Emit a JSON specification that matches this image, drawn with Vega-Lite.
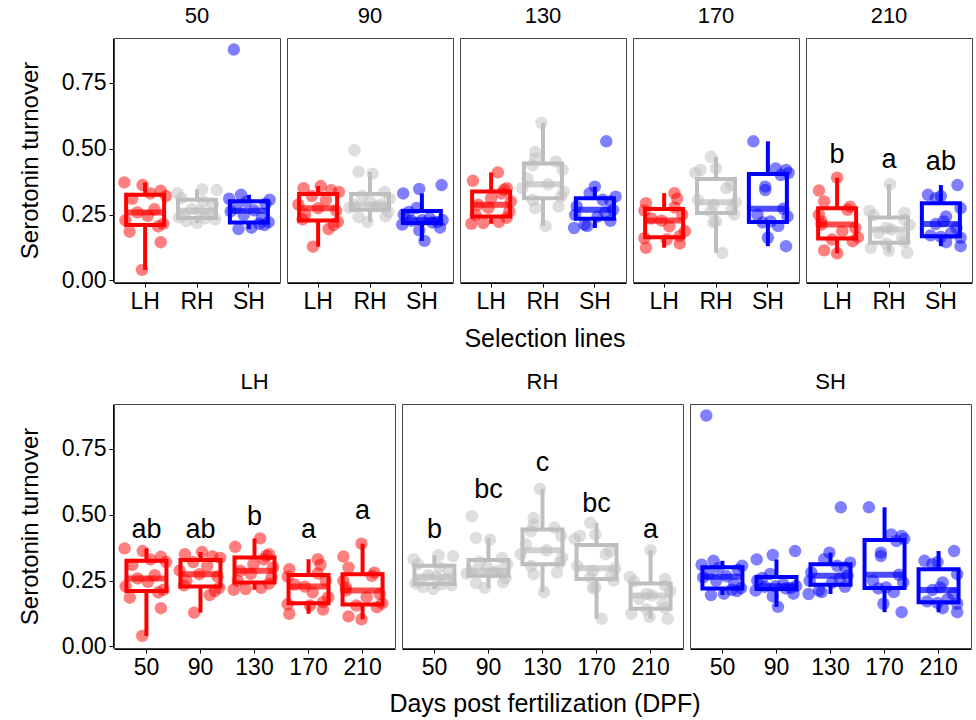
{
"$schema": "https://vega.github.io/schema/vega-lite/v6.json",
"padding": {"left": 18, "top": 5, "right": 0, "bottom": 0},
"background": "white",
"config": {
 "font": "Liberation Sans",
 "view": {"stroke": "#444444", "strokeWidth": 1},
 "axis": {"grid": false, "domainColor": "black", "tickColor": "black", "labelColor": "black", "titleColor": "black", "labelFontSize": 23, "titleFontSize": 25, "titleFontWeight": "normal", "tickSize": 4, "labelPadding": 3},
 "axisY": {"titlePadding": 19, "titleFontSize": 24},
 "header": {"labelFontSize": 22, "labelColor": "black", "labelPadding": 9},
 "headerColumn": {"labelFontSize": 22, "labelColor": "black", "labelPadding": 9},
 "concat": {"spacing": 19}
},
"data": {"values": [
{"dpf":50,"line":"LH","value":0.04,"jitter":-0.06},{"dpf":50,"line":"LH","value":0.145,"jitter":0.3},{"dpf":50,"line":"LH","value":0.185,"jitter":-0.3},{"dpf":50,"line":"LH","value":0.205,"jitter":0.25},{"dpf":50,"line":"LH","value":0.215,"jitter":0.35},{"dpf":50,"line":"LH","value":0.228,"jitter":-0.38},{"dpf":50,"line":"LH","value":0.245,"jitter":0.05},{"dpf":50,"line":"LH","value":0.258,"jitter":-0.15},{"dpf":50,"line":"LH","value":0.27,"jitter":0.18},{"dpf":50,"line":"LH","value":0.31,"jitter":-0.25},{"dpf":50,"line":"LH","value":0.32,"jitter":0.4},{"dpf":50,"line":"LH","value":0.33,"jitter":0.1},{"dpf":50,"line":"LH","value":0.34,"jitter":0.3},{"dpf":50,"line":"LH","value":0.362,"jitter":-0.05},{"dpf":50,"line":"LH","value":0.372,"jitter":-0.4},
{"dpf":50,"line":"RH","value":0.218,"jitter":0.0},{"dpf":50,"line":"RH","value":0.225,"jitter":-0.2},{"dpf":50,"line":"RH","value":0.232,"jitter":0.35},{"dpf":50,"line":"RH","value":0.235,"jitter":0.15},{"dpf":50,"line":"RH","value":0.239,"jitter":-0.35},{"dpf":50,"line":"RH","value":0.249,"jitter":-0.25},{"dpf":50,"line":"RH","value":0.256,"jitter":0.25},{"dpf":50,"line":"RH","value":0.264,"jitter":0.05},{"dpf":50,"line":"RH","value":0.27,"jitter":-0.1},{"dpf":50,"line":"RH","value":0.29,"jitter":0.3},{"dpf":50,"line":"RH","value":0.3,"jitter":0.12},{"dpf":50,"line":"RH","value":0.312,"jitter":-0.3},{"dpf":50,"line":"RH","value":0.331,"jitter":-0.38},{"dpf":50,"line":"RH","value":0.343,"jitter":0.38},{"dpf":50,"line":"RH","value":0.346,"jitter":0.1},
{"dpf":50,"line":"SH","value":0.195,"jitter":-0.2},{"dpf":50,"line":"SH","value":0.2,"jitter":0.05},{"dpf":50,"line":"SH","value":0.21,"jitter":0.3},{"dpf":50,"line":"SH","value":0.215,"jitter":0.2},{"dpf":50,"line":"SH","value":0.221,"jitter":0.38},{"dpf":50,"line":"SH","value":0.237,"jitter":0.25},{"dpf":50,"line":"SH","value":0.249,"jitter":-0.1},{"dpf":50,"line":"SH","value":0.262,"jitter":-0.35},{"dpf":50,"line":"SH","value":0.266,"jitter":0.1},{"dpf":50,"line":"SH","value":0.275,"jitter":-0.25},{"dpf":50,"line":"SH","value":0.29,"jitter":0.32},{"dpf":50,"line":"SH","value":0.298,"jitter":-0.05},{"dpf":50,"line":"SH","value":0.306,"jitter":0.4},{"dpf":50,"line":"SH","value":0.31,"jitter":-0.38},{"dpf":50,"line":"SH","value":0.325,"jitter":-0.15},{"dpf":50,"line":"SH","value":0.876,"jitter":-0.29},
{"dpf":90,"line":"LH","value":0.128,"jitter":-0.1},{"dpf":90,"line":"LH","value":0.195,"jitter":0.2},{"dpf":90,"line":"LH","value":0.21,"jitter":0.3},{"dpf":90,"line":"LH","value":0.222,"jitter":0.38},{"dpf":90,"line":"LH","value":0.232,"jitter":-0.3},{"dpf":90,"line":"LH","value":0.25,"jitter":-0.25},{"dpf":90,"line":"LH","value":0.265,"jitter":0.35},{"dpf":90,"line":"LH","value":0.274,"jitter":0.0},{"dpf":90,"line":"LH","value":0.288,"jitter":-0.38},{"dpf":90,"line":"LH","value":0.305,"jitter":0.15},{"dpf":90,"line":"LH","value":0.32,"jitter":-0.12},{"dpf":90,"line":"LH","value":0.336,"jitter":0.4},{"dpf":90,"line":"LH","value":0.342,"jitter":0.25},{"dpf":90,"line":"LH","value":0.35,"jitter":-0.28},{"dpf":90,"line":"LH","value":0.358,"jitter":0.05},
{"dpf":90,"line":"RH","value":0.222,"jitter":-0.05},{"dpf":90,"line":"RH","value":0.24,"jitter":-0.22},{"dpf":90,"line":"RH","value":0.243,"jitter":0.3},{"dpf":90,"line":"RH","value":0.26,"jitter":0.35},{"dpf":90,"line":"RH","value":0.276,"jitter":-0.4},{"dpf":90,"line":"RH","value":0.28,"jitter":0.12},{"dpf":90,"line":"RH","value":0.285,"jitter":-0.3},{"dpf":90,"line":"RH","value":0.287,"jitter":0.2},{"dpf":90,"line":"RH","value":0.3,"jitter":0.0},{"dpf":90,"line":"RH","value":0.31,"jitter":0.38},{"dpf":90,"line":"RH","value":0.32,"jitter":-0.15},{"dpf":90,"line":"RH","value":0.336,"jitter":0.28},{"dpf":90,"line":"RH","value":0.405,"jitter":0.05},{"dpf":90,"line":"RH","value":0.412,"jitter":-0.22},{"dpf":90,"line":"RH","value":0.494,"jitter":-0.3},
{"dpf":90,"line":"SH","value":0.15,"jitter":0.05},{"dpf":90,"line":"SH","value":0.19,"jitter":-0.05},{"dpf":90,"line":"SH","value":0.2,"jitter":0.35},{"dpf":90,"line":"SH","value":0.212,"jitter":-0.38},{"dpf":90,"line":"SH","value":0.22,"jitter":0.2},{"dpf":90,"line":"SH","value":0.222,"jitter":0.3},{"dpf":90,"line":"SH","value":0.226,"jitter":-0.2},{"dpf":90,"line":"SH","value":0.228,"jitter":0.0},{"dpf":90,"line":"SH","value":0.229,"jitter":0.4},{"dpf":90,"line":"SH","value":0.236,"jitter":0.15},{"dpf":90,"line":"SH","value":0.25,"jitter":-0.35},{"dpf":90,"line":"SH","value":0.26,"jitter":-0.25},{"dpf":90,"line":"SH","value":0.275,"jitter":-0.1},{"dpf":90,"line":"SH","value":0.33,"jitter":-0.36},{"dpf":90,"line":"SH","value":0.347,"jitter":-0.05},{"dpf":90,"line":"SH","value":0.362,"jitter":0.38},
{"dpf":130,"line":"LH","value":0.215,"jitter":-0.38},{"dpf":130,"line":"LH","value":0.218,"jitter":-0.15},{"dpf":130,"line":"LH","value":0.222,"jitter":0.15},{"dpf":130,"line":"LH","value":0.238,"jitter":0.3},{"dpf":130,"line":"LH","value":0.248,"jitter":-0.3},{"dpf":130,"line":"LH","value":0.262,"jitter":0.35},{"dpf":130,"line":"LH","value":0.275,"jitter":-0.05},{"dpf":130,"line":"LH","value":0.287,"jitter":-0.25},{"dpf":130,"line":"LH","value":0.3,"jitter":0.38},{"dpf":130,"line":"LH","value":0.312,"jitter":0.0},{"dpf":130,"line":"LH","value":0.33,"jitter":0.2},{"dpf":130,"line":"LH","value":0.344,"jitter":0.25},{"dpf":130,"line":"LH","value":0.35,"jitter":0.3},{"dpf":130,"line":"LH","value":0.378,"jitter":-0.35},{"dpf":130,"line":"LH","value":0.41,"jitter":0.13},
{"dpf":130,"line":"RH","value":0.206,"jitter":0.05},{"dpf":130,"line":"RH","value":0.274,"jitter":-0.15},{"dpf":130,"line":"RH","value":0.28,"jitter":0.3},{"dpf":130,"line":"RH","value":0.306,"jitter":-0.2},{"dpf":130,"line":"RH","value":0.318,"jitter":0.35},{"dpf":130,"line":"RH","value":0.337,"jitter":0.4},{"dpf":130,"line":"RH","value":0.35,"jitter":-0.4},{"dpf":130,"line":"RH","value":0.365,"jitter":0.1},{"dpf":130,"line":"RH","value":0.387,"jitter":-0.3},{"dpf":130,"line":"RH","value":0.42,"jitter":0.38},{"dpf":130,"line":"RH","value":0.437,"jitter":-0.2},{"dpf":130,"line":"RH","value":0.451,"jitter":0.25},{"dpf":130,"line":"RH","value":0.462,"jitter":-0.15},{"dpf":130,"line":"RH","value":0.487,"jitter":-0.15},{"dpf":130,"line":"RH","value":0.598,"jitter":-0.03},
{"dpf":130,"line":"SH","value":0.199,"jitter":-0.4},{"dpf":130,"line":"SH","value":0.206,"jitter":-0.15},{"dpf":130,"line":"SH","value":0.212,"jitter":-0.2},{"dpf":130,"line":"SH","value":0.226,"jitter":0.3},{"dpf":130,"line":"SH","value":0.242,"jitter":0.05},{"dpf":130,"line":"SH","value":0.249,"jitter":-0.38},{"dpf":130,"line":"SH","value":0.258,"jitter":0.2},{"dpf":130,"line":"SH","value":0.268,"jitter":0.35},{"dpf":130,"line":"SH","value":0.281,"jitter":-0.35},{"dpf":130,"line":"SH","value":0.3,"jitter":0.3},{"dpf":130,"line":"SH","value":0.306,"jitter":0.15},{"dpf":130,"line":"SH","value":0.318,"jitter":0.4},{"dpf":130,"line":"SH","value":0.331,"jitter":-0.1},{"dpf":130,"line":"SH","value":0.356,"jitter":0.0},{"dpf":130,"line":"SH","value":0.528,"jitter":0.22},
{"dpf":170,"line":"LH","value":0.124,"jitter":-0.35},{"dpf":170,"line":"LH","value":0.14,"jitter":0.3},{"dpf":170,"line":"LH","value":0.155,"jitter":0.05},{"dpf":170,"line":"LH","value":0.16,"jitter":-0.38},{"dpf":170,"line":"LH","value":0.168,"jitter":0.3},{"dpf":170,"line":"LH","value":0.187,"jitter":0.4},{"dpf":170,"line":"LH","value":0.205,"jitter":0.1},{"dpf":170,"line":"LH","value":0.227,"jitter":-0.05},{"dpf":170,"line":"LH","value":0.235,"jitter":-0.25},{"dpf":170,"line":"LH","value":0.25,"jitter":0.35},{"dpf":170,"line":"LH","value":0.265,"jitter":-0.38},{"dpf":170,"line":"LH","value":0.277,"jitter":0.2},{"dpf":170,"line":"LH","value":0.293,"jitter":-0.35},{"dpf":170,"line":"LH","value":0.31,"jitter":0.25},{"dpf":170,"line":"LH","value":0.331,"jitter":0.2},
{"dpf":170,"line":"RH","value":0.105,"jitter":0.12},{"dpf":170,"line":"RH","value":0.22,"jitter":-0.05},{"dpf":170,"line":"RH","value":0.224,"jitter":0.0},{"dpf":170,"line":"RH","value":0.25,"jitter":0.35},{"dpf":170,"line":"RH","value":0.262,"jitter":-0.1},{"dpf":170,"line":"RH","value":0.268,"jitter":0.3},{"dpf":170,"line":"RH","value":0.287,"jitter":-0.05},{"dpf":170,"line":"RH","value":0.297,"jitter":0.38},{"dpf":170,"line":"RH","value":0.306,"jitter":-0.35},{"dpf":170,"line":"RH","value":0.35,"jitter":0.2},{"dpf":170,"line":"RH","value":0.362,"jitter":0.28},{"dpf":170,"line":"RH","value":0.408,"jitter":-0.4},{"dpf":170,"line":"RH","value":0.419,"jitter":-0.3},{"dpf":170,"line":"RH","value":0.425,"jitter":0.0},{"dpf":170,"line":"RH","value":0.469,"jitter":-0.1},
{"dpf":170,"line":"SH","value":0.13,"jitter":0.35},{"dpf":170,"line":"SH","value":0.162,"jitter":0.0},{"dpf":170,"line":"SH","value":0.206,"jitter":0.2},{"dpf":170,"line":"SH","value":0.22,"jitter":-0.1},{"dpf":170,"line":"SH","value":0.224,"jitter":0.05},{"dpf":170,"line":"SH","value":0.243,"jitter":0.38},{"dpf":170,"line":"SH","value":0.249,"jitter":-0.2},{"dpf":170,"line":"SH","value":0.272,"jitter":0.3},{"dpf":170,"line":"SH","value":0.343,"jitter":-0.05},{"dpf":170,"line":"SH","value":0.356,"jitter":-0.05},{"dpf":170,"line":"SH","value":0.4,"jitter":0.25},{"dpf":170,"line":"SH","value":0.408,"jitter":0.4},{"dpf":170,"line":"SH","value":0.419,"jitter":0.35},{"dpf":170,"line":"SH","value":0.425,"jitter":0.15},{"dpf":170,"line":"SH","value":0.528,"jitter":-0.28},
{"dpf":210,"line":"LH","value":0.103,"jitter":0.0},{"dpf":210,"line":"LH","value":0.114,"jitter":-0.25},{"dpf":210,"line":"LH","value":0.149,"jitter":0.3},{"dpf":210,"line":"LH","value":0.155,"jitter":-0.1},{"dpf":210,"line":"LH","value":0.163,"jitter":0.4},{"dpf":210,"line":"LH","value":0.187,"jitter":0.1},{"dpf":210,"line":"LH","value":0.199,"jitter":0.35},{"dpf":210,"line":"LH","value":0.212,"jitter":-0.3},{"dpf":210,"line":"LH","value":0.224,"jitter":-0.3},{"dpf":210,"line":"LH","value":0.249,"jitter":-0.35},{"dpf":210,"line":"LH","value":0.268,"jitter":0.2},{"dpf":210,"line":"LH","value":0.28,"jitter":0.25},{"dpf":210,"line":"LH","value":0.3,"jitter":-0.25},{"dpf":210,"line":"LH","value":0.341,"jitter":-0.35},{"dpf":210,"line":"LH","value":0.39,"jitter":0.0},
{"dpf":210,"line":"RH","value":0.105,"jitter":0.35},{"dpf":210,"line":"RH","value":0.112,"jitter":0.0},{"dpf":210,"line":"RH","value":0.124,"jitter":-0.35},{"dpf":210,"line":"RH","value":0.14,"jitter":-0.05},{"dpf":210,"line":"RH","value":0.146,"jitter":0.3},{"dpf":210,"line":"RH","value":0.162,"jitter":0.25},{"dpf":210,"line":"RH","value":0.18,"jitter":-0.2},{"dpf":210,"line":"RH","value":0.193,"jitter":0.05},{"dpf":210,"line":"RH","value":0.199,"jitter":-0.05},{"dpf":210,"line":"RH","value":0.21,"jitter":0.4},{"dpf":210,"line":"RH","value":0.231,"jitter":0.3},{"dpf":210,"line":"RH","value":0.247,"jitter":-0.3},{"dpf":210,"line":"RH","value":0.256,"jitter":0.3},{"dpf":210,"line":"RH","value":0.264,"jitter":-0.38},{"dpf":210,"line":"RH","value":0.365,"jitter":0.02},
{"dpf":210,"line":"SH","value":0.13,"jitter":0.38},{"dpf":210,"line":"SH","value":0.145,"jitter":0.1},{"dpf":210,"line":"SH","value":0.162,"jitter":0.38},{"dpf":210,"line":"SH","value":0.165,"jitter":0.0},{"dpf":210,"line":"SH","value":0.171,"jitter":-0.2},{"dpf":210,"line":"SH","value":0.18,"jitter":0.2},{"dpf":210,"line":"SH","value":0.199,"jitter":0.3},{"dpf":210,"line":"SH","value":0.214,"jitter":-0.1},{"dpf":210,"line":"SH","value":0.224,"jitter":0.05},{"dpf":210,"line":"SH","value":0.243,"jitter":0.1},{"dpf":210,"line":"SH","value":0.274,"jitter":0.38},{"dpf":210,"line":"SH","value":0.312,"jitter":-0.1},{"dpf":210,"line":"SH","value":0.32,"jitter":0.0},{"dpf":210,"line":"SH","value":0.325,"jitter":-0.25},{"dpf":210,"line":"SH","value":0.362,"jitter":0.32},
{"panel":"top","dpf":210,"line":"LH","letter":"b","ly":0.446},
{"panel":"top","dpf":210,"line":"RH","letter":"a","ly":0.425},
{"panel":"top","dpf":210,"line":"SH","letter":"ab","ly":0.419},
{"panel":"bottom","dpf":50,"line":"LH","letter":"ab","ly":0.41},
{"panel":"bottom","dpf":90,"line":"LH","letter":"ab","ly":0.41},
{"panel":"bottom","dpf":130,"line":"LH","letter":"b","ly":0.46},
{"panel":"bottom","dpf":170,"line":"LH","letter":"a","ly":0.41},
{"panel":"bottom","dpf":210,"line":"LH","letter":"a","ly":0.483},
{"panel":"bottom","dpf":50,"line":"RH","letter":"b","ly":0.41},
{"panel":"bottom","dpf":90,"line":"RH","letter":"bc","ly":0.562},
{"panel":"bottom","dpf":130,"line":"RH","letter":"c","ly":0.664},
{"panel":"bottom","dpf":170,"line":"RH","letter":"bc","ly":0.511},
{"panel":"bottom","dpf":210,"line":"RH","letter":"a","ly":0.41}
]},
"vconcat": [
{
 "title": {"text": "Selection lines", "orient": "bottom", "fontSize": 25, "fontWeight": "normal", "color": "black", "anchor": "middle", "frame": "group", "dx": 431, "offset": 14},
 "facet": {"column": {"field": "dpf", "type": "ordinal", "header": {"title": null, "labelFontSize": 22, "labelColor": "black", "labelPadding": 9}}},
 "spacing": 5,
 "spec": {
  "width": 166, "height": 244,
  "layer": [
   {"transform": [{"filter": "isValid(datum.value)"},
     {"joinaggregate": [{"op": "q1", "field": "value", "as": "q1"}, {"op": "q3", "field": "value", "as": "q3"}], "groupby": ["dpf", "line"]},
     {"filter": "datum.value >= datum.q1 - 1.5*(datum.q3-datum.q1) && datum.value <= datum.q3 + 1.5*(datum.q3-datum.q1)"},
     {"aggregate": [{"op": "min", "field": "value", "as": "lo"}, {"op": "max", "field": "value", "as": "hi"}], "groupby": ["dpf", "line"]}],
    "mark": {"type": "rule", "strokeWidth": 4},
    "encoding": {
     "x": {"field": "line", "type": "nominal", "title": null, "scale": {"type": "band", "paddingInner": 0, "paddingOuter": 0.1}, "axis": {"labelAngle": 0}},
     "y": {"field": "lo", "type": "quantitative", "title": "Serotonin turnover", "scale": {"domain": [-0.006, 0.92], "nice": false, "zero": false}, "axis": {"values": [0, 0.25, 0.5, 0.75], "format": ".2f"}},
     "y2": {"field": "hi"},
     "color": {"field": "line", "type": "nominal", "scale": {"domain": ["LH", "RH", "SH"], "range": ["#ff0000", "#bebebe", "#0000ff"]}, "legend": null}
    }},
   {"transform": [{"filter": "isValid(datum.value)"},
     {"aggregate": [{"op": "q1", "field": "value", "as": "q1"}, {"op": "q3", "field": "value", "as": "q3"}], "groupby": ["dpf", "line"]}],
    "mark": {"type": "bar", "fill": "white", "fillOpacity": 1, "strokeWidth": 4, "width": 38},
    "encoding": {
     "x": {"field": "line", "type": "nominal", "title": null},
     "y": {"field": "q1", "type": "quantitative", "title": "Serotonin turnover"},
     "y2": {"field": "q3"},
     "stroke": {"field": "line", "type": "nominal", "scale": {"domain": ["LH", "RH", "SH"], "range": ["#ff0000", "#bebebe", "#0000ff"]}, "legend": null}
    }},
   {"transform": [{"filter": "isValid(datum.value)"},
     {"aggregate": [{"op": "median", "field": "value", "as": "med"}], "groupby": ["dpf", "line"]}],
    "mark": {"type": "tick", "thickness": 6, "size": 40},
    "encoding": {
     "x": {"field": "line", "type": "nominal", "title": null},
     "y": {"field": "med", "type": "quantitative", "title": "Serotonin turnover"},
     "color": {"field": "line", "type": "nominal", "legend": null}
    }},
   {"transform": [{"filter": "isValid(datum.value)"}],
    "mark": {"type": "point", "filled": true, "size": 155, "opacity": 0.5, "strokeWidth": 0},
    "encoding": {
     "x": {"field": "line", "type": "nominal", "title": null},
     "xOffset": {"field": "jitter", "type": "quantitative", "scale": {"domain": [-0.5, 0.5]}},
     "y": {"field": "value", "type": "quantitative", "title": "Serotonin turnover"},
     "color": {"field": "line", "type": "nominal", "legend": null}
    }},
   {"transform": [{"filter": "datum.panel == 'top'"}],
    "mark": {"type": "text", "fontSize": 27, "baseline": "alphabetic", "align": "center", "color": "black"},
    "encoding": {
     "x": {"field": "line", "type": "nominal", "title": null},
     "y": {"field": "ly", "type": "quantitative", "title": "Serotonin turnover"},
     "text": {"field": "letter"}
    }}
  ]
 }
},
{
 "title": {"text": "Days post fertilization (DPF)", "orient": "bottom", "fontSize": 25, "fontWeight": "normal", "color": "black", "anchor": "middle", "frame": "group", "dx": 431, "offset": 13},
 "facet": {"column": {"field": "line", "type": "nominal", "header": {"title": null, "labelFontSize": 22, "labelColor": "black", "labelPadding": 9}}},
 "spacing": 5,
 "spec": {
  "width": 281, "height": 244,
  "layer": [
   {"transform": [{"filter": "isValid(datum.value)"},
     {"joinaggregate": [{"op": "q1", "field": "value", "as": "q1"}, {"op": "q3", "field": "value", "as": "q3"}], "groupby": ["dpf", "line"]},
     {"filter": "datum.value >= datum.q1 - 1.5*(datum.q3-datum.q1) && datum.value <= datum.q3 + 1.5*(datum.q3-datum.q1)"},
     {"aggregate": [{"op": "min", "field": "value", "as": "lo"}, {"op": "max", "field": "value", "as": "hi"}], "groupby": ["dpf", "line"]}],
    "mark": {"type": "rule", "strokeWidth": 4},
    "encoding": {
     "x": {"field": "dpf", "type": "ordinal", "title": null, "scale": {"type": "band", "paddingInner": 0, "paddingOuter": 0.1}, "axis": {"labelAngle": 0}},
     "y": {"field": "lo", "type": "quantitative", "title": "Serotonin turnover", "scale": {"domain": [-0.006, 0.92], "nice": false, "zero": false}, "axis": {"values": [0, 0.25, 0.5, 0.75], "format": ".2f"}},
     "y2": {"field": "hi"},
     "color": {"field": "line", "type": "nominal", "scale": {"domain": ["LH", "RH", "SH"], "range": ["#ff0000", "#bebebe", "#0000ff"]}, "legend": null}
    }},
   {"transform": [{"filter": "isValid(datum.value)"},
     {"aggregate": [{"op": "q1", "field": "value", "as": "q1"}, {"op": "q3", "field": "value", "as": "q3"}], "groupby": ["dpf", "line"]}],
    "mark": {"type": "bar", "fill": "white", "fillOpacity": 1, "strokeWidth": 4, "width": 40},
    "encoding": {
     "x": {"field": "dpf", "type": "ordinal", "title": null},
     "y": {"field": "q1", "type": "quantitative", "title": "Serotonin turnover"},
     "y2": {"field": "q3"},
     "stroke": {"field": "line", "type": "nominal", "scale": {"domain": ["LH", "RH", "SH"], "range": ["#ff0000", "#bebebe", "#0000ff"]}, "legend": null}
    }},
   {"transform": [{"filter": "isValid(datum.value)"},
     {"aggregate": [{"op": "median", "field": "value", "as": "med"}], "groupby": ["dpf", "line"]}],
    "mark": {"type": "tick", "thickness": 6, "size": 42},
    "encoding": {
     "x": {"field": "dpf", "type": "ordinal", "title": null},
     "y": {"field": "med", "type": "quantitative", "title": "Serotonin turnover"},
     "color": {"field": "line", "type": "nominal", "legend": null}
    }},
   {"transform": [{"filter": "isValid(datum.value)"}],
    "mark": {"type": "point", "filled": true, "size": 155, "opacity": 0.5, "strokeWidth": 0},
    "encoding": {
     "x": {"field": "dpf", "type": "ordinal", "title": null},
     "xOffset": {"field": "jitter", "type": "quantitative", "scale": {"domain": [-0.5, 0.5]}},
     "y": {"field": "value", "type": "quantitative", "title": "Serotonin turnover"},
     "color": {"field": "line", "type": "nominal", "legend": null}
    }},
   {"transform": [{"filter": "datum.panel == 'bottom'"}],
    "mark": {"type": "text", "fontSize": 27, "baseline": "alphabetic", "align": "center", "color": "black"},
    "encoding": {
     "x": {"field": "dpf", "type": "ordinal", "title": null},
     "y": {"field": "ly", "type": "quantitative", "title": "Serotonin turnover"},
     "text": {"field": "letter"}
    }}
  ]
 }
}
]
}
